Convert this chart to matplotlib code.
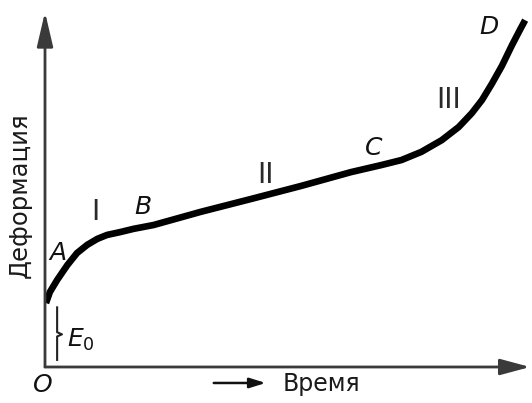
import numpy as np
import matplotlib
matplotlib.use("Agg")
import matplotlib.pyplot as plt

# creep curve, arbitrary units
time = [0.02, 0.10, 0.25, 0.46, 0.66, 0.87, 1.08, 1.28, 1.55, 1.82, 2.24,
        3.21, 4.24, 5.28, 6.31, 6.94, 7.35, 7.76, 8.18, 8.53, 8.80, 9.01,
        9.21, 9.42, 9.63, 9.79, 9.90]
deform = [1.80, 2.11, 2.45, 2.87, 3.21, 3.44, 3.61, 3.72, 3.80, 3.89, 4.00,
          4.37, 4.73, 5.10, 5.49, 5.69, 5.83, 6.06, 6.39, 6.76, 7.15, 7.52,
          7.97, 8.48, 9.07, 9.49, 9.77]

# point labels and stage numerals
point_labels = ["A", "B", "C", "D"]
point_t = [0.27, 2.01, 6.77, 9.15]
point_e = [3.21, 4.51, 6.17, 9.58]
stage_labels = ["I", "II", "III"]
stage_t = [1.04, 4.55, 8.32]
stage_e = [4.37, 5.41, 7.52]

e0 = deform[0]

fig = plt.figure(figsize=(5.32, 4.03), dpi=100)
ax = fig.add_axes([45 / 532, 36 / 403, 485 / 532, 355 / 403])
ax.set_xlim(0, 10)
ax.set_ylim(0, 10)
ax.axis("off")

axis_col = "#3a3a3a"
ax.annotate("", xy=(0, 10), xytext=(0, 0),
            arrowprops=dict(arrowstyle="-|>,head_length=1.5,head_width=0.35",
                            lw=2, color=axis_col, shrinkA=0, shrinkB=0,
                            mutation_scale=14))
ax.annotate("", xy=(10, 0), xytext=(0, 0),
            arrowprops=dict(arrowstyle="-|>,head_length=1.3,head_width=0.35",
                            lw=2, color=axis_col, shrinkA=0, shrinkB=0,
                            mutation_scale=14))

ax.plot(time, deform, color="black", lw=4.8, solid_capstyle="butt",
        solid_joinstyle="round")

narrow = ["Liberation Sans Narrow", "DejaVu Sans"]
lab = dict(fontsize=18, style="italic", color="#111111",
           ha="center", va="center", family=narrow)
for s, t, e in zip(point_labels, point_t, point_e):
    ax.text(t, e, s, **lab)

for s, t, e in zip(stage_labels, stage_t, stage_e):
    ax.text(t, e, s, fontsize=20, color="#2a2a2a", ha="center", va="center",
            family=narrow)

# brace for initial strain E0
bt = 0.25
ax.plot([bt, bt, bt + 0.1, bt, bt], [e0 - 0.12, 0.98, 0.92, 0.86, 0.2],
        color="#222222", lw=1.5)
ax.text(0.74, 0.76, "$E_0$", fontsize=18, color="#111111", ha="center",
        va="center")
ax.text(-0.04, -0.52, "O", fontsize=18, style="italic", color="#111111",
        ha="center", va="center", family=narrow)

ax.annotate("", xy=(4.55, -0.45), xytext=(3.48, -0.45),
            arrowprops=dict(arrowstyle="-|>,head_length=0.8,head_width=0.25",
                            lw=1.8, color="#111111", shrinkA=0, shrinkB=0,
                            mutation_scale=12), annotation_clip=False)
ax.text(5.69, -0.47, "Время", fontsize=17, color="#1a1a1a", ha="center",
        va="center")
ax.text(-0.52, 4.85, "Деформация", fontsize=17.5, color="#1a1a1a",
        rotation=90, ha="center", va="center")

fig.savefig("out.png", dpi=100)
